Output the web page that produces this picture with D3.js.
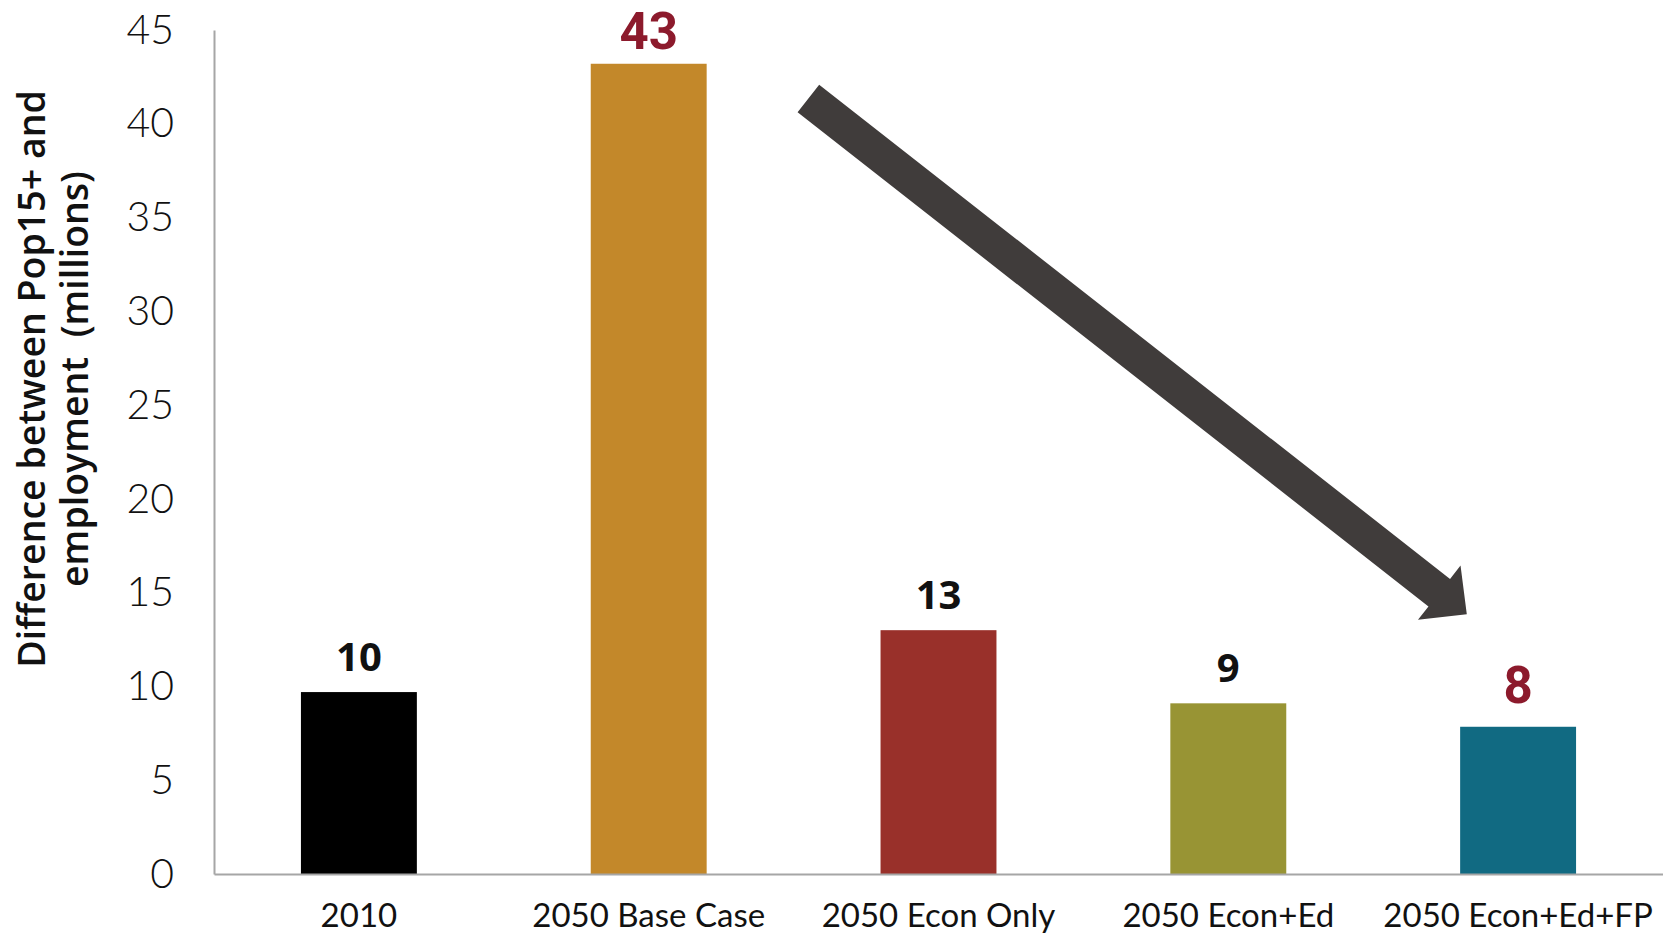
<!DOCTYPE html>
<html>
<head>
<meta charset="utf-8">
<script src="https://cdn.jsdelivr.net/npm/d3@7"></script>
<style>
  html, body { margin: 0; padding: 0; background: #fff; }
  svg { display: block; }
</style>
</head>
<body>
<svg id="chart" width="1663" height="935"></svg>
<script>
// Unemployment gap scenarios (millions)
const categories = ["2010", "2050 Base Case", "2050 Econ Only", "2050 Econ+Ed", "2050 Econ+Ed+FP"];
const values = [9.7, 43.2, 13.0, 9.1, 7.85];
const barColors = ["#000000", "#c3882a", "#99302a", "#989434", "#116a82"];
const labelColors = ["#111111", "#8c1a2c", "#111111", "#111111", "#8c1a2c"];
const highlighted = [false, true, false, false, true];
const yTicks = [0, 5, 10, 15, 20, 25, 30, 35, 40, 45];
const yTitle = ["Difference between Pop15+ and", "employment  (millions)"];

const svg = d3.select("#chart");
const margin = { left: 214, right: 0, top: 30, bottom: 61 };
const W = 1663, H = 935;

const x = d3.scaleBand()
  .domain(categories)
  .range([margin.left, W - margin.right])
  .paddingInner(0.6)
  .paddingOuter(0.3);

const y = d3.scaleLinear()
  .domain([0, 45])
  .range([H - margin.bottom, margin.top]);

// Bars
svg.append("g").selectAll("rect")
  .data(categories)
  .join("rect")
  .attr("x", d => x(d))
  .attr("width", x.bandwidth())
  .attr("y", (d, i) => y(values[i]))
  .attr("height", (d, i) => y(0) - y(values[i]))
  .attr("fill", (d, i) => barColors[i]);

// Y axis: line plus numbers, no tick marks
const yAxis = svg.append("g")
  .attr("transform", `translate(${margin.left},0)`)
  .call(d3.axisLeft(y).tickValues(yTicks).tickSize(0).tickPadding(40));
yAxis.select(".domain").attr("stroke", "#a6a6a6").attr("stroke-width", 2);
yAxis.selectAll("text")
  .attr("font-family", "Lato, 'Noto Sans', sans-serif")
  .attr("font-weight", 300)
  .attr("font-size", 41)
  .attr("fill", "#111");

// X axis
const xAxis = svg.append("g")
  .attr("transform", `translate(0,${y(0)})`)
  .call(d3.axisBottom(x).tickSize(0).tickPadding(30));
xAxis.select(".domain").attr("stroke", "#a6a6a6").attr("stroke-width", 2);
xAxis.selectAll("text")
  .attr("font-family", "Lato, 'Noto Sans', sans-serif")
  .attr("font-weight", 400)
  .attr("font-size", 33)
  .attr("fill", "#111");

// Value labels above bars
svg.append("g").selectAll("text")
  .data(categories)
  .join("text")
  .attr("x", d => x(d) + x.bandwidth() / 2)
  .attr("y", (d, i) => y(values[i]) - (highlighted[i] ? (values[i] > 40 ? 15 : 24) : 21))
  .attr("text-anchor", "middle")
  .attr("font-family", (d, i) => highlighted[i] ? "Roboto, 'Open Sans', sans-serif" : "'Open Sans', 'Noto Sans', sans-serif")
  .attr("font-weight", 700)
  .attr("font-size", (d, i) => highlighted[i] ? 51 : 40)
  .attr("fill", (d, i) => labelColors[i])
  .text((d, i) => d3.format(".0f")(values[i]));

// Y axis title (two lines, rotated)
const titleG = svg.append("g").attr("transform", "translate(0,379) rotate(-90)");
titleG.selectAll("text")
  .data(yTitle)
  .join("text")
  .attr("x", 0)
  .attr("y", (d, i) => 45 + i * 43)
  .attr("text-anchor", "middle")
  .style("white-space", "pre")
  .attr("font-family", "'Open Sans', 'Noto Sans', sans-serif")
  .attr("font-weight", 600)
  .attr("font-size", 37.5)
  .attr("fill", "#111")
  .text(d => d);

// Downward trend arrow from the base case toward the combined scenario
const step = x.step();
const arrowStart = [x("2050 Base Case") + x.bandwidth() / 2 + 0.551 * step, y(41.35)];
const arrowTip = [x("2050 Econ+Ed+FP") + x.bandwidth() / 2 - 0.177 * step, y(13.85)];
const dx = arrowTip[0] - arrowStart[0], dy = arrowTip[1] - arrowStart[1];
const len = Math.hypot(dx, dy);
const u = [dx / len, dy / len], n = [-u[1], u[0]];
const shaftHalf = 17.5, headHalf = 34.5, headLen = 35;
const base = [arrowTip[0] - u[0] * headLen, arrowTip[1] - u[1] * headLen];
const pt = (p, k) => [p[0] + n[0] * k, p[1] + n[1] * k];
const arrowPts = [
  pt(arrowStart, -shaftHalf), pt(base, -shaftHalf), pt(base, -headHalf),
  arrowTip,
  pt(base, headHalf), pt(base, shaftHalf), pt(arrowStart, shaftHalf)
];
svg.append("path")
  .attr("d", d3.line()(arrowPts) + "Z")
  .attr("fill", "#403c3b");
</script>
</body>
</html>
